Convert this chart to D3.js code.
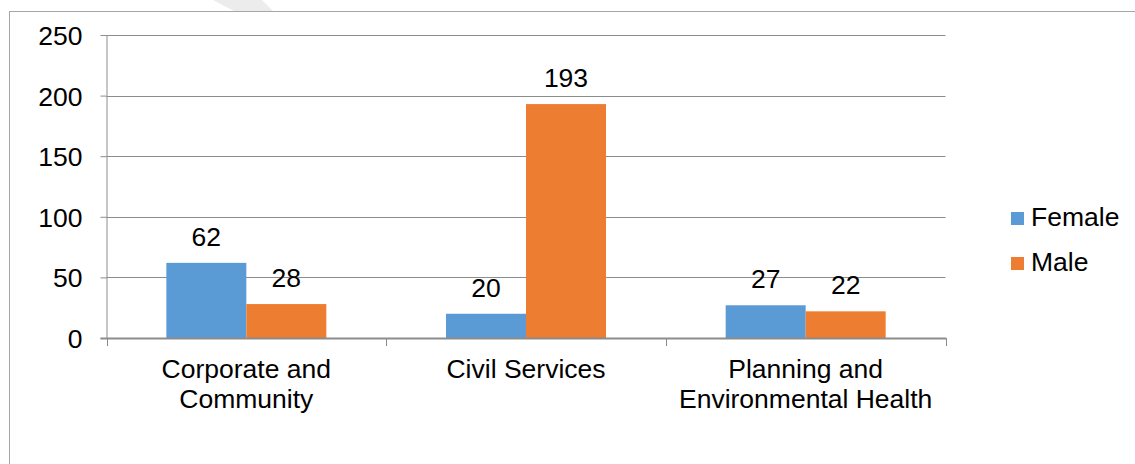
<!DOCTYPE html>
<html>
<head>
<meta charset="utf-8">
<script src="https://cdn.jsdelivr.net/npm/d3@7"></script>
<style>
  html, body { margin: 0; padding: 0; background: #fff; }
  svg { display: block; }
  text { font-family: "Liberation Sans", Arial, sans-serif; fill: #000; }
</style>
</head>
<body>
<svg id="chart" width="1135" height="464"></svg>
<script>
const categories = [["Corporate and", "Community"], ["Civil Services"], ["Planning and", "Environmental Health"]];
const categoryKeys = ["Corporate and Community", "Civil Services", "Planning and Environmental Health"];
const seriesNames = ["Female", "Male"];
const female = [62, 20, 27];
const male = [28, 193, 22];
const yTicks = [0, 50, 100, 150, 200, 250];
const colors = ["#5B9BD5", "#ED7D31"];

const svg = d3.select("#chart");
const W = 1135, H = 464;
const pLeft = 106.5, pRight = 945.5, pTop = 35, pBottom = 338;
const fs = 26.5;

// outer border
svg.append("rect").attr("x", 9.5).attr("y", 11.5).attr("width", W + 10).attr("height", H + 10)
  .attr("fill", "none").attr("stroke", "#a6a6a6").attr("stroke-width", 1);

// faint watermark stripe
svg.append("polygon").attr("points", "213,0 262,0 273,11 234,11").attr("fill", "#ececec");

const x = d3.scaleBand().domain(categoryKeys).range([pLeft, pRight]).paddingInner(0).paddingOuter(0);
const xs = d3.scaleBand().domain(seriesNames).range([0, x.bandwidth()]).paddingInner(0).paddingOuter(0.748);
const y = d3.scaleLinear().domain([0, 250]).range([pBottom, pTop]);

// gridlines
svg.append("g").selectAll("line").data(yTicks.filter(d => d > 0)).join("line")
  .attr("x1", pLeft).attr("x2", pRight)
  .attr("y1", d => Math.round(y(d)) + 0.5).attr("y2", d => Math.round(y(d)) + 0.5)
  .attr("stroke", "#8c8c8c").attr("stroke-width", 1);

// y axis
const yAxis = d3.axisLeft(y).tickValues(yTicks).tickSize(6).tickPadding(18);
const gy = svg.append("g").attr("transform", `translate(${pLeft},0)`).call(yAxis);
gy.select(".domain").attr("stroke", "#8c8c8c").attr("d", `M0.5,${pTop}V${pBottom}`);
gy.selectAll(".tick line").attr("stroke", "#8c8c8c");
gy.selectAll(".tick text").attr("font-size", fs).attr("font-family", "Liberation Sans, Arial, sans-serif").attr("fill", "#000").attr("dy", "0.36em");

// bars
const data = categoryKeys.map((c, i) => ({ c, vals: [female[i], male[i]] }));
const groups = svg.append("g").selectAll("g").data(data).join("g")
  .attr("transform", d => `translate(${x(d.c)},0)`);
groups.selectAll("rect").data(d => d.vals.map((v, j) => ({ v, s: seriesNames[j], j }))).join("rect")
  .attr("x", d => xs(d.s)).attr("width", xs.bandwidth())
  .attr("y", d => y(d.v)).attr("height", d => y(0) - y(d.v))
  .attr("fill", d => colors[d.j]);
groups.selectAll("text.lbl").data(d => d.vals.map((v, j) => ({ v, s: seriesNames[j], j }))).join("text")
  .attr("class", "lbl")
  .attr("x", d => xs(d.s) + xs.bandwidth() / 2).attr("y", d => y(d.v) - 17)
  .attr("text-anchor", "middle").attr("font-size", fs).text(d => d.v);

// x axis
const xAxis = d3.axisBottom(x).tickSize(0).tickFormat("");
const gx = svg.append("g").attr("transform", `translate(0,${pBottom})`).call(xAxis);
gx.select(".domain").remove();
svg.append("line").attr("x1", pLeft - 6).attr("x2", pRight + 0.5).attr("y1", pBottom + 0.5).attr("y2", pBottom + 0.5)
  .attr("stroke", "#8c8c8c").attr("stroke-width", 2);
const bounds = [pLeft, ...categoryKeys.map(c => x(c) + x.bandwidth())];
svg.append("g").selectAll("line").data(bounds).join("line")
  .attr("x1", d => Math.round(d) + 0.5).attr("x2", d => Math.round(d) + 0.5)
  .attr("y1", pBottom).attr("y2", pBottom + 8).attr("stroke", "#8c8c8c");

// category labels
svg.append("g").selectAll("text").data(categoryKeys).join("text")
  .attr("x", d => x(d) + x.bandwidth() / 2).attr("y", 378)
  .attr("text-anchor", "middle").attr("font-size", fs)
  .each(function(d, i) {
    const t = d3.select(this);
    categories[i].forEach((line, k) => {
      t.append("tspan").attr("x", x(d) + x.bandwidth() / 2).attr("dy", k === 0 ? 0 : 30).text(line);
    });
  });

// legend
const leg = svg.append("g").selectAll("g").data(seriesNames).join("g")
  .attr("transform", (d, i) => `translate(1011,${212 + i * 45})`);
leg.append("rect").attr("width", 13).attr("height", 13).attr("fill", (d, i) => colors[i]);
leg.append("text").attr("x", 20).attr("y", 14).attr("font-size", fs).text(d => d);
</script>
</body>
</html>
